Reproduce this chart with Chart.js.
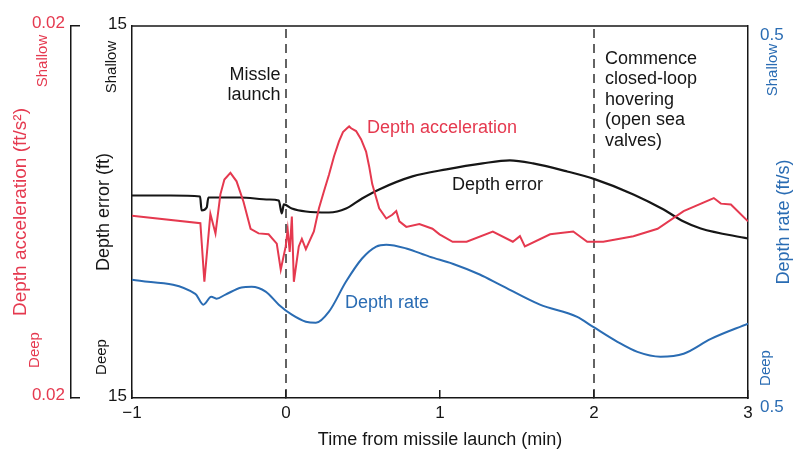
<!DOCTYPE html>
<html><head><meta charset="utf-8">
<script src="https://cdn.jsdelivr.net/npm/chart.js@4/dist/chart.umd.min.js"></script>
<style>html,body{margin:0;padding:0;background:#fff}#wrap{width:794px;height:455px}</style>
</head><body><div id="wrap"><canvas id="c" width="794" height="455"></canvas></div>
<script>
// ---- data (time in minutes from missile launch) ----
const errT = [-1.0,-0.75,-0.558,-0.548,-0.515,-0.504,-0.30,-0.11,-0.047,-0.027,-0.014,0.038,0.129,0.279,0.390,0.494,0.605,0.821,1.042,1.277,1.453,1.604,1.826,2.008,2.256,2.452,2.582,2.693,3.0];
const errV = [1.33,1.33,1.25,0.12,0.36,1.17,1.17,1.01,0.93,-0.12,0.61,0.28,0.04,-0.04,0.28,1.09,1.82,2.87,3.44,3.92,4.16,3.92,3.27,2.63,1.42,0.20,-0.77,-1.33,-2.14];

const accT = [-1.0,-0.556,-0.530,-0.491,-0.458,-0.426,-0.400,-0.361,-0.321,-0.276,-0.230,-0.178,-0.113,-0.060,-0.034,-0.002,0.011,0.024,0.038,0.051,0.083,0.103,0.129,0.181,0.214,0.246,0.279,0.312,0.344,0.370,0.396,0.410,0.423,0.455,0.488,0.520,0.540,0.560,0.586,0.605,0.651,0.690,0.716,0.736,0.781,0.866,0.951,0.997,1.082,1.173,1.343,1.473,1.519,1.551,1.715,1.865,1.956,2.060,2.256,2.413,2.582,2.778,2.824,2.889,3.0];
const accV = [-0.0004,-0.0012,-0.0075,-0.0002,-0.0023,0.0019,0.0035,0.0042,0.0033,0.0011,-0.0018,-0.0023,-0.0024,-0.0034,-0.0062,-0.0037,-0.0019,-0.0043,-0.0005,-0.0075,-0.0037,-0.0029,-0.0040,-0.0021,0.0004,0.0022,0.0040,0.0060,0.0076,0.0086,0.0090,0.0092,0.0090,0.0087,0.0078,0.0065,0.0049,0.0030,0.0015,0.0004,-0.0007,-0.0003,0.0001,-0.0010,-0.0016,-0.0013,-0.0018,-0.0024,-0.0032,-0.0032,-0.0021,-0.0032,-0.0026,-0.0037,-0.0024,-0.0021,-0.0032,-0.0032,-0.0026,-0.0018,0.0001,0.0015,0.0009,0.0008,-0.0010];

const rateT = [-1.0,-0.589,-0.537,-0.485,-0.452,-0.393,-0.289,-0.223,-0.132,-0.047,0.038,0.129,0.194,0.279,0.390,0.494,0.586,0.651,0.781,0.931,1.082,1.258,1.388,1.649,1.891,1.995,2.152,2.282,2.432,2.582,2.759,3.0];
const rateV = [-0.182,-0.220,-0.249,-0.228,-0.233,-0.222,-0.203,-0.201,-0.214,-0.249,-0.276,-0.295,-0.298,-0.268,-0.187,-0.125,-0.093,-0.088,-0.098,-0.120,-0.139,-0.168,-0.195,-0.249,-0.282,-0.309,-0.349,-0.376,-0.389,-0.381,-0.341,-0.300];

const eventTimes = [0, 2];

const xTickValues = [-1, 0, 1, 2, 3];
const xTickLabels = ['\u22121', '0', '1', '2', '3'];
const errTickValues = [-15, 15];
const errTickLabels = ['15', '15'];
const accTickValues = [-0.02, 0.02];
const accTickLabels = ['0.02', '0.02'];
const rateTickValues = [-0.5, 0.5];
const rateTickLabels = ['0.5', '0.5'];

// ---- styles ----
const RED = '#e5394f', BLUE = '#2a6cb3', BLACK = '#161616';
const FONT = '"Liberation Sans", Arial, Helvetica, sans-serif';
Chart.defaults.font.family = FONT;

const pts = (T, V) => T.map((t, i) => ({x: t, y: V[i]}));

const datasets = [
  {label:'Depth error', data: pts(errT, errV), yAxisID:'y', borderColor: BLACK, borderWidth: 2.2, pointRadius: 0, cubicInterpolationMode:'monotone', order: 2},
  {label:'Depth acceleration', data: pts(accT, accV), yAxisID:'yAcc', borderColor: RED, borderWidth: 2, pointRadius: 0, tension: 0, order: 1},
  {label:'Depth rate', data: pts(rateT, rateV), yAxisID:'yRate', borderColor: BLUE, borderWidth: 2, pointRadius: 0, cubicInterpolationMode:'monotone', order: 3}
];
eventTimes.forEach(t => datasets.push({
  data: [{x: t, y: -15}, {x: t, y: 15}], yAxisID:'y', borderColor:'#222', borderWidth: 1.4,
  borderDash:[9,6], pointRadius: 0, order: 10
}));

const textNotes = [
  {lines:['Missle','launch'], t: -0.035, v: 11.05, align:'right', color: BLACK},
  {lines:['Commence','closed-loop','hovering','(open sea','valves)'], t: 2.071, v: 12.34, align:'left', color: BLACK},
  {lines:['Depth acceleration'], t: 0.526, v: 6.77, align:'left', color: RED},
  {lines:['Depth error'], t: 1.078, v: 2.18, align:'left', color: BLACK},
  {lines:['Depth rate'], t: 0.383, v: -7.34, align:'left', color: BLUE}
];

const decor = {
  id: 'decor',
  afterDraw(chart) {
    const {ctx, chartArea: a, scales} = chart;
    ctx.save();
    // top frame line
    ctx.strokeStyle = BLACK; ctx.lineWidth = 1.5;
    ctx.beginPath(); ctx.moveTo(a.left, a.top); ctx.lineTo(a.right, a.top); ctx.stroke();
    // notes
    ctx.font = '18px ' + FONT; ctx.textBaseline = 'middle';
    textNotes.forEach(n => {
      const px = scales.x.getPixelForValue(n.t), py = scales.y.getPixelForValue(n.v);
      ctx.fillStyle = n.color; ctx.textAlign = n.align;
      n.lines.forEach((s, i) => ctx.fillText(s, px, py + i * 20.5));
    });
    const vtext = (s, cx, cy, size, color) => {
      ctx.save(); ctx.translate(cx, cy); ctx.rotate(-Math.PI / 2);
      ctx.textAlign = 'center'; ctx.textBaseline = 'middle';
      ctx.font = size + 'px ' + FONT; ctx.fillStyle = color; ctx.fillText(s, 0, 0); ctx.restore();
    };
    const yA = scales.yAcc, yE = scales.y, yR = scales.yRate;
    vtext('Shallow', yA.right - 28, a.top + 35, 15, RED);
    vtext('Deep', yA.right - 36, a.bottom - 48, 15, RED);
    vtext('Shallow', yE.right - 20, a.top + 41, 15, BLACK);
    vtext('Deep', yE.right - 30, a.bottom - 41, 15, BLACK);
    vtext('Shallow', yR.left + 25, a.top + 44, 15, BLUE);
    vtext('Deep', yR.left + 18, a.bottom - 30, 15, BLUE);
    vtext('Depth rate (ft/s)', yR.left + 36, (a.top + a.bottom) / 2 + 10, 18, BLUE);
    ctx.restore();
  }
};

const setTicks = vals => s => { s.ticks = vals.map(v => ({value: v})); };

new Chart(document.getElementById('c'), {
  type: 'line',
  data: {datasets},
  plugins: [decor],
  options: {
    responsive: false, animation: false, devicePixelRatio: 1,
    layout: {padding: {top: 26, left: 0, right: 0, bottom: 0}},
    plugins: {legend: {display: false}, tooltip: {enabled: false}},
    scales: {
      x: {
        type: 'linear', position: 'bottom', min: -1, max: 3,
        afterBuildTicks: setTicks(xTickValues),
        afterFit: s => { s.height = 57; },
        ticks: {callback: (v, i) => xTickLabels[i], font: {size: 17}, color: BLACK, padding: 13, maxRotation: 0},
        grid: {display: true, drawOnChartArea: false, drawTicks: true, tickLength: -8, color: BLACK, lineWidth: 1.5},
        border: {display: true, color: BLACK, width: 1.5},
        title: {display: true, text: 'Time from missile launch (min)', font: {size: 18}, color: BLACK, padding: {top: 0, bottom: 4}}
      },
      y: {
        type: 'linear', position: 'left', weight: 0, min: -15, max: 15,
        afterBuildTicks: setTicks(errTickValues),
        afterFit: s => { s.width = 61; },
        ticks: {callback: (v, i) => errTickLabels[i], font: {size: 17}, color: BLACK, padding: 5, labelOffset: -2},
        grid: {display: false, drawTicks: false},
        border: {display: true, color: BLACK, width: 1.5},
        title: {display: true, text: 'Depth error (ft)', font: {size: 18}, color: BLACK, padding: {top: 22, bottom: 0}}
      },
      yAcc: {
        type: 'linear', position: 'left', weight: 1, min: -0.02, max: 0.02,
        afterBuildTicks: setTicks(accTickValues),
        afterFit: s => { s.width = 71; },
        ticks: {callback: (v, i) => accTickLabels[i], font: {size: 17}, color: RED, padding: 15, labelOffset: -3},
        grid: {display: true, drawOnChartArea: false, drawTicks: true, tickLength: -9, color: BLACK, lineWidth: 1.5},
        border: {display: true, color: BLACK, width: 1.5},
        title: {display: true, text: 'Depth acceleration (ft/s\u00b2)', font: {size: 19}, color: RED, padding: {top: 9, bottom: 0}}
      },
      yRate: {
        type: 'linear', position: 'right', min: -0.5, max: 0.5,
        afterBuildTicks: setTicks(rateTickValues),
        afterFit: s => { s.width = 46; },
        ticks: {callback: (v, i) => rateTickLabels[i], font: {size: 17}, color: BLUE, padding: 12, labelOffset: 9},
        grid: {display: false, drawTicks: false},
        border: {display: true, color: BLACK, width: 1.5},
        title: {display: false}
      }
    }
  }
});
</script>
</body></html>
